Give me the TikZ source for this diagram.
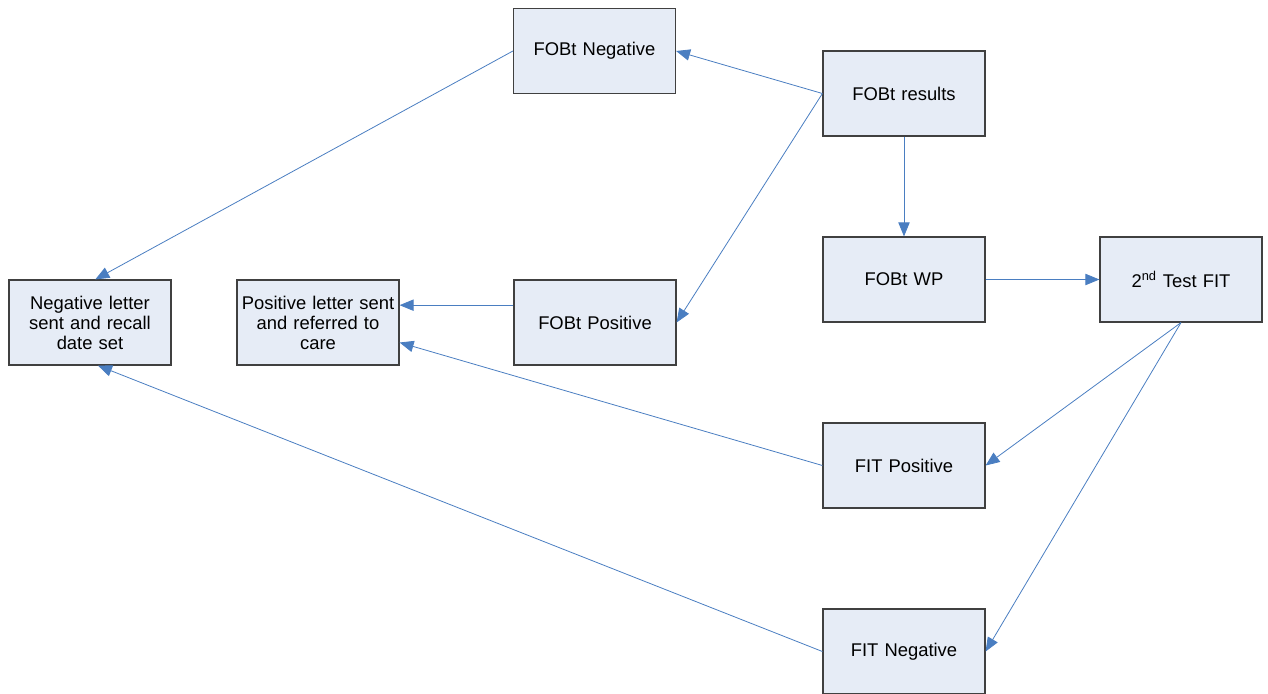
\documentclass[tikz,border=0pt]{standalone}
\usepackage{fontspec}
\setmainfont{Liberation Sans}
\usetikzlibrary{arrows.meta}
\definecolor{boxfill}{RGB}{230,236,246}
\definecolor{boxline}{RGB}{64,64,64}
\definecolor{conn}{RGB}{74,126,193}
\begin{document}
\begin{tikzpicture}[x=0.75pt,y=-0.75pt,
  box/.style={draw=boxline,line width=0.9pt,fill=boxfill,minimum width=121.5pt,minimum height=63.75pt,inner sep=0pt,text width=120pt,align=center,font=\fontsize{13.8}{15}\selectfont},
  conn/.style={draw=conn,line width=0.6pt,-{Triangle[length=10.5pt,width=8.5pt]}}]
\useasboundingbox (0,0) rectangle (1268,693);
\node[box] (neg) at (594.5,51) {FOBt Negative};
\node[box] (res) at (904,93.5) {FOBt results};
\node[box] (wp) at (904,279.5) {FOBt WP};
\node[box] (fit2) at (1181,279.5) {2\textsuperscript{nd} Test FIT};
\node[box] (pos) at (595,322.5) {FOBt Positive};
\node[box] (nl) at (90,322.5) {Negative letter\\sent and recall\\date set};
\node[box] (pl) at (318,322.5) {Positive letter sent\\and referred to\\care};
\node[box] (fitp) at (904,465.5) {FIT Positive};
\node[box] (fitn) at (904,651.5) {FIT Negative};
\draw[conn] (res.west) -- (neg.east);
\draw[conn] (res.west) -- (pos.east);
\draw[conn] (neg.west) -- ([xshift=4]nl.north);
\draw[conn] ([yshift=13]pos.west) -- ([yshift=13]pl.east);
\draw[conn] (fitp.west) -- ([yshift=-15]pl.east);
\draw[conn] (fitn.west) -- ([xshift=6]nl.south);
\draw[conn] (res.south) -- (wp.north);
\draw[conn] (wp.east) -- (fit2.west);
\draw[conn] (fit2.south) -- (fitp.east);
\draw[conn] (fit2.south) -- (fitn.east);
\end{tikzpicture}
\end{document}
